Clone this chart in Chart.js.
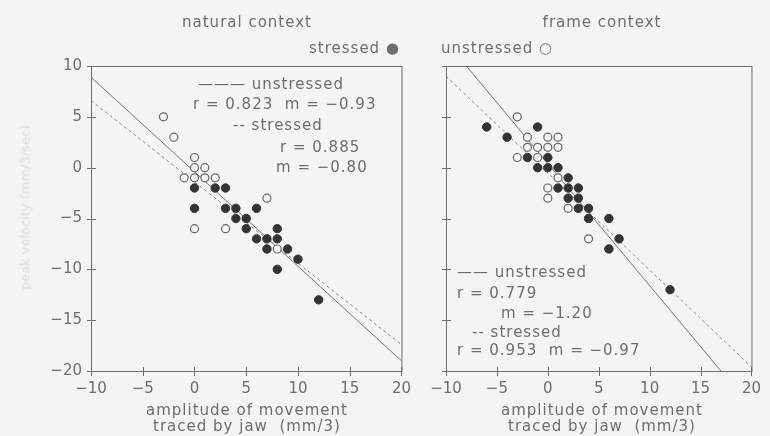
<!DOCTYPE html>
<html>
<head>
<meta charset="utf-8">
<script src="https://cdn.jsdelivr.net/npm/chart.js@4/dist/chart.umd.min.js"></script>
<style>
  html, body { margin:0; padding:0; background:#f4f4f1; }
  #wrap { position:relative; width:770px; height:436px; overflow:hidden; background:#f4f4f1; }
  canvas { position:absolute; top:0; }
  .t { position:absolute; font-family:'DejaVu Sans', sans-serif; font-size:15px; color:#6e6e6e;
       letter-spacing:1px; white-space:pre; line-height:16px; }
  .c { text-align:center; transform:translateX(-50%); }
  .yt { position:absolute; font-family:'DejaVu Sans', sans-serif; font-size:13px; color:#dcdcd8;
        white-space:pre; transform-origin:center; }
</style>
</head>
<body>
<div id="wrap">
  <canvas id="left" width="420" height="436" style="left:0;width:420px;height:436px"></canvas>
  <canvas id="right" width="350" height="436" style="left:420px;width:350px;height:436px"></canvas>

  <div class="t c" style="left:247px;top:14px">natural context</div>
  <div class="t c" style="left:602px;top:14px">frame context</div>
  <div class="t" style="left:309px;top:40px">stressed ●</div>
  <div class="t" style="left:441px;top:40px">unstressed ○</div>

  <div class="t" style="left:198px;top:76px">——— unstressed</div>
  <div class="t" style="left:193px;top:96px">r = 0.823  m = −0.93</div>
  <div class="t" style="left:233px;top:117px">-- stressed</div>
  <div class="t" style="left:280px;top:139px">r = 0.885</div>
  <div class="t" style="left:276px;top:159px">m = −0.80</div>

  <div class="t" style="left:457px;top:264px">—— unstressed</div>
  <div class="t" style="left:457px;top:285px">r = 0.779</div>
  <div class="t" style="left:501px;top:305px">m = −1.20</div>
  <div class="t" style="left:472px;top:324px">-- stressed</div>
  <div class="t" style="left:457px;top:342px">r = 0.953  m = −0.97</div>

  <div class="t c" style="left:247px;top:402px">amplitude of movement</div>
  <div class="t c" style="left:247px;top:418px">traced by jaw  (mm/3)</div>
  <div class="t c" style="left:602px;top:402px">amplitude of movement</div>
  <div class="t c" style="left:602px;top:418px">traced by jaw  (mm/3)</div>

  <div class="yt" style="left:-60px;top:200px;transform:rotate(-90deg);width:170px;text-align:center">peak velocity (mm/3/sec)</div>
</div>

<script>
// ---- data ----
const xTicks = [-10, -5, 0, 5, 10, 15, 20];
const yTicks = [-20, -15, -10, -5, 0, 5, 10];

// natural context
const natStressedX   = [0, 2, 3, 0, 3, 4, 6, 4, 5, 5, 6, 7, 8, 8, 7, 9, 10, 8, 12];
const natStressedY   = [-2, -2, -2, -4, -4, -4, -4, -5, -5, -6, -7, -7, -6, -7, -8, -8, -9, -10, -13];
const natUnstressedX = [-3, -2, 0, 0, 1, -1, 0, 1, 2, 7, 0, 3, 8];
const natUnstressedY = [5, 3, 1, 0, 0, -1, -1, -1, -1, -3, -6, -6, -8];
const natFitUnstressedX = [-10, 20];
const natFitUnstressedY = [8.9, -19.0];
const natFitStressedX   = [-10, 20];
const natFitStressedY   = [6.6, -17.4];

// frame context
const frmStressedX   = [-6, -4, -1, -2, 0, -1, 0, 1, 2, 1, 2, 3, 2, 3, 3, 4, 4, 6, 7, 6, 12];
const frmStressedY   = [4, 3, 4, 1, 1, 0, 0, 0, -1, -2, -2, -2, -3, -3, -4, -4, -5, -5, -7, -8, -12];
const frmUnstressedX = [-3, -2, 0, 1, -2, -1, 0, 1, -3, -1, 1, 0, 0, 2, 4];
const frmUnstressedY = [5, 3, 3, 3, 2, 2, 2, 2, 1, 1, -1, -2, -3, -4, -7];
const frmFitUnstressedX = [-8.0, 17.0];
const frmFitUnstressedY = [10, -20];
const frmFitStressedX   = [-10, 20];
const frmFitStressedY   = [9.0, -19.6];

const pts = (xs, ys) => xs.map((x, i) => ({ x, y: ys[i] }));

const BG = '#f4f4f1';
const AXIS = '#6e6e6e';
const TXT = '#6e6e6e';
const FONT = { family: "'DejaVu Sans', sans-serif", size: 15 };

const frame = {
  id: 'frame',
  afterDraw(chart) {
    const { ctx, chartArea: a, scales } = chart;
    ctx.save();
    ctx.strokeStyle = AXIS;
    ctx.lineWidth = 1;
    ctx.strokeRect(a.left + 0.5, a.top + 0.5, a.right - a.left, a.bottom - a.top);
    ctx.beginPath();
    scales.x.ticks.forEach(t => {
      const px = Math.round(scales.x.getPixelForValue(t.value)) + 0.5;
      ctx.moveTo(px, a.bottom - 4); ctx.lineTo(px, a.bottom + 5);
    });
    scales.y.ticks.forEach(t => {
      const py = Math.round(scales.y.getPixelForValue(t.value)) + 0.5;
      ctx.moveTo(a.left - 4, py); ctx.lineTo(a.left + 5, py);
    });
    ctx.stroke();
    ctx.restore();
  }
};

function makeChart(id, d, opts) {
  return new Chart(document.getElementById(id), {
    type: 'scatter',
    data: {
      datasets: [
        { data: pts(d.fuX, d.fuY), showLine: true, borderColor: '#777', borderWidth: 1, pointRadius: 0, fill: false, order: 3 },
        { data: pts(d.fsX, d.fsY), showLine: true, borderColor: '#888', borderWidth: 1, borderDash: [3, 3], pointRadius: 0, fill: false, order: 3 },
        { data: pts(d.uX, d.uY), pointRadius: 4, pointBorderWidth: 1.2, pointBorderColor: '#666', pointBackgroundColor: BG, order: 2 },
        { data: pts(d.sX, d.sY), pointRadius: 4.2, pointBorderWidth: 1, pointBorderColor: '#333', pointBackgroundColor: '#333', order: 1 }
      ]
    },
    options: {
      responsive: false,
      animation: false,
      events: [],
      layout: { padding: { top: 66, right: opts.rightPad, bottom: 0, left: 0 } },
      plugins: { legend: { display: false }, tooltip: { enabled: false } },
      scales: {
        x: {
          type: 'linear', min: -10, max: 20,
          afterBuildTicks: s => { s.ticks = xTicks.map(v => ({ value: v })); },
          afterFit: s => { s.height = 65; },
          grid: { display: false, drawTicks: false, tickLength: 0 },
          border: { display: true, color: AXIS, width: 1 },
          ticks: { color: TXT, font: FONT, padding: 9, maxRotation: 0,
                   callback: v => (v < 0 ? '−' + Math.abs(v) : '' + v) }
        },
        y: {
          type: 'linear', min: -20, max: 10,
          afterBuildTicks: s => { s.ticks = yTicks.map(v => ({ value: v })); },
          afterFit: s => { s.width = opts.yWidth; },
          grid: { display: false, drawTicks: false, tickLength: 0 },
          border: { display: true, color: AXIS, width: 1 },
          ticks: { display: opts.yLabels, color: TXT, font: FONT, padding: 9,
                   callback: v => (v < 0 ? '−' + Math.abs(v) : '' + v) }
        }
      }
    },
    plugins: [frame]
  });
}

makeChart('left', {
  sX: natStressedX, sY: natStressedY, uX: natUnstressedX, uY: natUnstressedY,
  fuX: natFitUnstressedX, fuY: natFitUnstressedY, fsX: natFitStressedX, fsY: natFitStressedY
}, { rightPad: 16, yWidth: 91, yLabels: true });

makeChart('right', {
  sX: frmStressedX, sY: frmStressedY, uX: frmUnstressedX, uY: frmUnstressedY,
  fuX: frmFitUnstressedX, fuY: frmFitUnstressedY, fsX: frmFitStressedX, fsY: frmFitStressedY
}, { rightPad: 11, yWidth: 26, yLabels: false });
</script>
</body>
</html>
